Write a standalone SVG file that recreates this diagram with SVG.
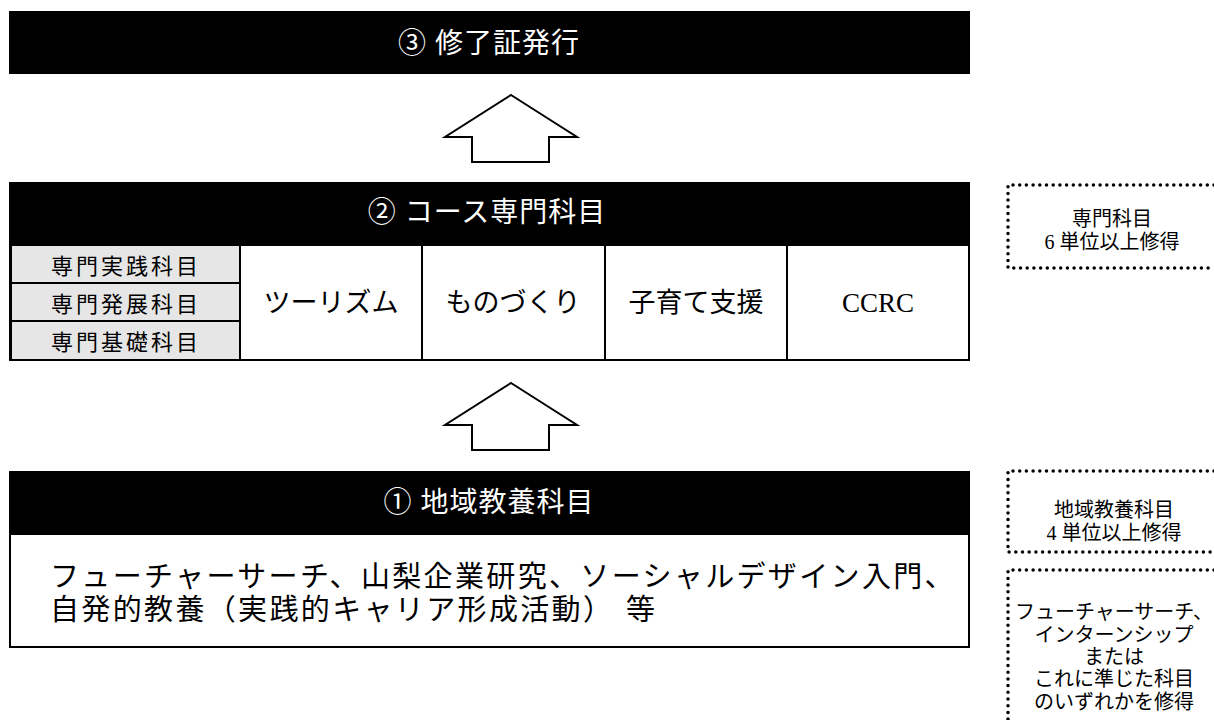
<svg xmlns="http://www.w3.org/2000/svg" width="1214" height="720" viewBox="0 0 1214 720">
<style>
text{font-family:"Liberation Serif","Noto Sans CJK JP",serif;fill:#000}
.hd{fill:#000;stroke:#000;stroke-width:2}
.ht{fill:#fff;font-size:28px;letter-spacing:1px;text-anchor:middle}
.box{fill:#fff;stroke:#000;stroke-width:2}
.gray{fill:#e6e6e6;stroke:#000;stroke-width:2}
.gt{font-size:22px;letter-spacing:3px;text-anchor:middle}
.ct{font-size:27px;text-anchor:middle}
.arrow{fill:#fff;stroke:#000;stroke-width:2;stroke-linejoin:miter}
.dot{fill:none;stroke:#000;stroke-width:3.5;stroke-linecap:round;stroke-dasharray:0 6.7}
.nt{font-size:20px;text-anchor:middle}
.bt{font-size:29px;letter-spacing:2.35px}
</style>
<g id="node3">
<rect class="hd" x="10" y="12" width="959" height="61"/>
<text class="ht" x="489" y="53">③ 修了証発行</text>
</g>
<g id="node2">
<rect class="box" x="10" y="183" width="959" height="177"/>
<rect class="hd" x="10" y="183" width="959" height="62"/>
<text class="ht" x="487" y="222">② コース専門科目</text>
<rect class="gray" x="11" y="245" width="229" height="38"/>
<rect class="gray" x="11" y="283" width="229" height="38"/>
<rect class="gray" x="11" y="321" width="229" height="39"/>
<text class="gt" x="126" y="274">専門実践科目</text>
<text class="gt" x="126" y="312">専門発展科目</text>
<text class="gt" x="126" y="350">専門基礎科目</text>
<line x1="422" y1="245" x2="422" y2="360" stroke="#000" stroke-width="2"/>
<line x1="605" y1="245" x2="605" y2="360" stroke="#000" stroke-width="2"/>
<line x1="787" y1="245" x2="787" y2="360" stroke="#000" stroke-width="2"/>
<text class="ct" x="331" y="312">ツーリズム</text>
<text class="ct" x="513" y="312">ものづくり</text>
<text class="ct" x="696" y="312">子育て支援</text>
<text class="ct" x="878" y="312">CCRC</text>
</g>
<g id="node1">
<rect class="box" x="10" y="472" width="959" height="175"/>
<rect class="hd" x="10" y="472" width="959" height="62"/>
<text class="ht" x="489" y="512">① 地域教養科目</text>
<text class="bt" x="50" y="587">フューチャーサーチ、山梨企業研究、ソーシャルデザイン入門、</text>
<text class="bt" x="50" y="620">自発的教養（実践的キャリア形成活動）<tspan x="626">等</tspan></text>
</g>
<g id="note1">
<path class="dot" d="M1214 185 H1008 V268 H1214"/>
<text class="nt" x="1112" y="226">専門科目</text>
<text class="nt" x="1112" y="249">6 単位以上修得</text>
</g>
<g id="note2">
<path class="dot" d="M1214 471 H1008 V552 H1214"/>
<text class="nt" x="1114" y="517">地域教養科目</text>
<text class="nt" x="1114" y="540">4 単位以上修得</text>
</g>
<g id="note3">
<path class="dot" d="M1214 570 H1008 V720"/>
<text class="nt" x="1114" y="619">フューチャーサーチ、</text>
<text class="nt" x="1114" y="642">インターンシップ</text>
<text class="nt" x="1114" y="664">または</text>
<text class="nt" x="1114" y="686">これに準じた科目</text>
<text class="nt" x="1114" y="709">のいずれかを修得</text>
</g>
<g id="connectors">
<polygon class="arrow" points="511,95 577,137 549,137 549,162 472,162 472,137 445,137"/>
<polygon class="arrow" points="511,383 577,425 549,425 549,450 472,450 472,425 445,425"/>
</g>
</svg>
